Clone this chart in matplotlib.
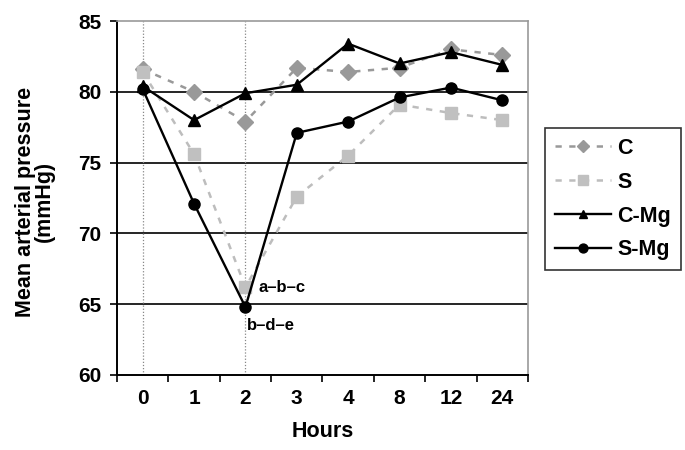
import matplotlib
matplotlib.use("Agg")
import matplotlib.pyplot as plt
from matplotlib.ticker import FixedLocator, NullFormatter

plt.rcParams['font.family'] = ['Liberation Sans', 'DejaVu Sans']
plt.rcParams['font.weight'] = 'bold'

hours = ['0', '1', '2', '3', '4', '8', '12', '24']
C = [81.6, 80.0, 77.9, 81.7, 81.4, 81.7, 83.0, 82.6]
S = [81.4, 75.6, 66.2, 72.6, 75.5, 79.1, 78.5, 78.0]
C_Mg = [80.4, 78.0, 79.9, 80.5, 83.4, 82.0, 82.8, 81.9]
S_Mg = [80.2, 72.1, 64.8, 77.1, 77.9, 79.6, 80.3, 79.4]

fig = plt.figure(figsize=(6.85, 4.5), dpi=100)
ax = fig.add_axes([0.1708, 0.1667, 0.6, 0.7866])
x = list(range(len(hours)))

ax.plot(x, C, color='#999999', ls=(0, (2.5, 3)), lw=1.8, marker='D', ms=8,
        mfc='#999999', mec='#999999', label='C', zorder=3)
ax.plot(x, S, color='#bdbdbd', ls=(0, (2.5, 3)), lw=1.8, marker='s', ms=8.5,
        mfc='#c0c0c0', mec='#c0c0c0', label='S', zorder=3)
ax.plot(x, C_Mg, color='black', lw=1.7, marker='^', ms=8, label='C-Mg', zorder=4)
ax.plot(x, S_Mg, color='black', lw=1.7, marker='o', ms=8, label='S-Mg', zorder=4)

ax.set_xlim(-0.5, len(hours) - 0.5)
ax.set_ylim(60, 85)
ax.set_yticks([60, 65, 70, 75, 80, 85])
for yv in [65, 70, 75, 80]:
    ax.axhline(yv, color='black', lw=1.2, zorder=1)
for xv in [0, 2]:
    ax.axvline(xv, color='#888888', lw=0.9, ls=(0, (1, 1.5)), zorder=1)

ax.set_xticks(x)
ax.set_xticklabels(hours)
ax.xaxis.set_minor_locator(FixedLocator([i - 0.5 for i in range(len(hours) + 1)]))
ax.xaxis.set_minor_formatter(NullFormatter())
ax.tick_params(axis='x', which='major', length=0, pad=10, labelsize=15)
ax.tick_params(axis='x', which='minor', length=5, width=1.2, direction='out')
ax.tick_params(axis='y', length=5, width=1.2, direction='out', labelsize=15, pad=6)

for s in ['top', 'right']:
    ax.spines[s].set_color('#999999')
    ax.spines[s].set_linewidth(1.2)
for s in ['left', 'bottom']:
    ax.spines[s].set_color('black')
    ax.spines[s].set_linewidth(1.4)

ax.set_xlabel('Hours', fontsize=15.5, fontweight='bold')
ax.xaxis.set_label_coords(0.5, -0.13)
ax.set_ylabel('Mean arterial pressure\n(mmHg)', fontsize=15.5, fontweight='bold',
              linespacing=0.85)
ax.yaxis.set_label_coords(-0.152, 0.49)

ax.text(2.25, S[2], 'a\u2013b\u2013c', fontsize=12, fontweight='bold', va='center', ha='left')
ax.text(2.03, S_Mg[2] - 1.3, 'b\u2013d\u2013e', fontsize=12, fontweight='bold', va='center', ha='left')

leg = ax.legend(loc='center left', bbox_to_anchor=(1.041, 0.497), borderaxespad=0,
                fontsize=15.5, frameon=True, fancybox=False, edgecolor='black',
                markerscale=0.8, handlelength=2.6, borderpad=0.45, labelspacing=0.6,
                handletextpad=0.33)
leg.get_frame().set_linewidth(1.2)

fig.savefig('out.png', dpi=100)
